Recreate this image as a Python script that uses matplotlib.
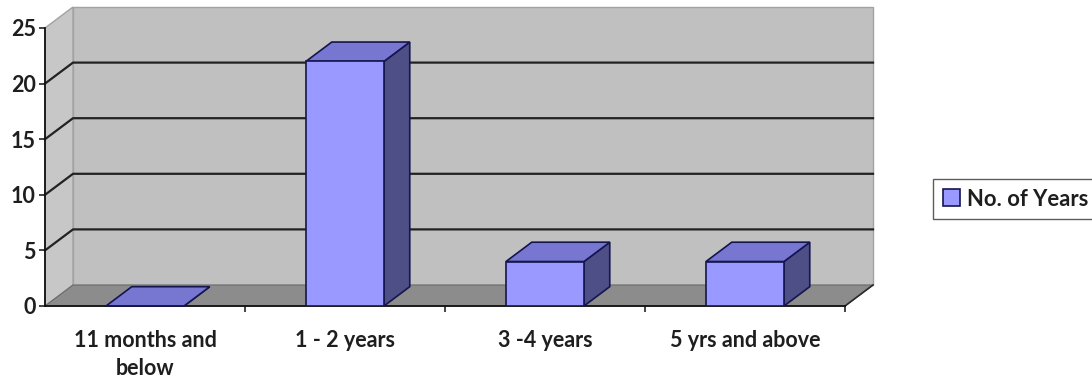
import matplotlib
matplotlib.use("Agg")
import matplotlib.pyplot as plt
from matplotlib.patches import Polygon, Patch
from matplotlib.lines import Line2D
from matplotlib.transforms import IdentityTransform

# ---- data -------------------------------------------------------------
categories = ["11 months and\nbelow", "1 - 2 years", "3 -4 years", "5 yrs and above"]
values = [0, 22, 4, 4]
series_name = "No. of Years"
y_ticks = [0, 5, 10, 15, 20, 25]

# ---- style ------------------------------------------------------------
FRONT = "#9999ff"
TOP = "#7777d2"
SIDE = "#4f4f88"
EDGE = "#15154f"
WALL = "#c0c0c0"
SIDE_WALL = "#c7c7c7"
FLOOR = "#8c8c8c"
GRID = "#222222"
TEXT = "#1e1e1e"
FONT = "Lato"

W, H, DPI = 1092, 379, 100
fig = plt.figure(figsize=(W / DPI, H / DPI), dpi=DPI)
fig.patch.set_facecolor("white")

# front plane of the box (pixels from the top-left corner)
left, right, bottom, top = 45, 845, 306, 28
ax = fig.add_axes([left / W, (H - bottom) / H, (right - left) / W, (bottom - top) / H])
n = len(values)
ax.set_xlim(-0.5, n - 0.5)
ax.set_ylim(y_ticks[0], y_ticks[-1])
ax.set_autoscale_on(False)
ax.patch.set_visible(False)

DEPTH = (28, 21)  # receding direction of the box, in pixels (right, up)


def P(x, y, t):
    """Data point (x, y) pushed back by depth fraction t, in display pixels."""
    px, py = ax.transData.transform((x, y))
    return (px + t * DEPTH[0], py + t * DEPTH[1])


def face(pts, fc, ec, lw=1.0, z=1.0):
    ax.add_patch(Polygon(pts, closed=True, facecolor=fc, edgecolor=ec, linewidth=lw,
                         transform=IdentityTransform(), clip_on=False, zorder=z))


def seg(pts, color, lw, z):
    xs, ys = zip(*pts)
    ax.add_line(Line2D(xs, ys, color=color, linewidth=lw, transform=IdentityTransform(),
                       clip_on=False, zorder=z))


xa, xb = -0.5, n - 0.5
ymin, ymax = y_ticks[0], y_ticks[-1]

# walls and floor
face([P(xa, ymin, 1), P(xb, ymin, 1), P(xb, ymax, 1), P(xa, ymax, 1)], WALL, "#a2a2a2", 1.0, 0.5)
face([P(xa, ymin, 0), P(xa, ymin, 1), P(xa, ymax, 1), P(xa, ymax, 0)], SIDE_WALL, "#a2a2a2", 1.0, 0.6)
face([P(xa, ymin, 0), P(xb, ymin, 0), P(xb, ymin, 1), P(xa, ymin, 1)], FLOOR, "#6a6a6a", 0.8, 0.7)
seg([P(xb, ymin, 0), P(xb, ymin, 1)], "#2a2a2a", 1.2, 0.8)

# gridlines along side wall and back wall
for v in y_ticks[1:-1]:
    seg([P(xa, v, 0), P(xa, v, 1), P(xb, v, 1)], GRID, 1.6, 0.9)

# 3-D columns
bw, bd = 0.39, 0.92
for i, v in enumerate(values):
    xl, xr = i - bw / 2, i + bw / 2
    face([P(xr, 0, 0), P(xr, 0, bd), P(xr, v, bd), P(xr, v, 0)], SIDE, EDGE, 1.2, 3.0)
    face([P(xl, v, 0), P(xr, v, 0), P(xr, v, bd), P(xl, v, bd)], TOP, EDGE, 1.2, 3.1)
ax.bar(range(n), values, width=bw, color=FRONT, edgecolor=EDGE, linewidth=1.2, zorder=3.2)

# axes
for s in ("top", "right"):
    ax.spines[s].set_visible(False)
for s in ("left", "bottom"):
    ax.spines[s].set_color("#111111")
    ax.spines[s].set_linewidth(1.3)
    ax.spines[s].set_zorder(2.5)

ax.set_yticks(y_ticks)
ax.set_yticklabels([str(t) for t in y_ticks], fontfamily=FONT, fontweight="bold",
                   fontsize=15.5, color=TEXT)
ax.tick_params(axis="y", direction="out", length=4.5, width=1.1, color="#111111", pad=2)

ax.set_xticks(range(n))
ax.set_xticklabels(categories, fontfamily=FONT, fontweight="bold", fontsize=15.5,
                   color=TEXT, linespacing=1.45, va="top")
ax.tick_params(axis="x", which="major", length=0, pad=17)
ax.set_xticks([i + 0.5 for i in range(n)], minor=True)
ax.tick_params(axis="x", which="minor", direction="out", length=4.5, width=1.1, color="#111111")

# legend
handle = Patch(facecolor=FRONT, edgecolor=EDGE, linewidth=1.2)
leg = fig.legend([handle], [series_name], loc="center left",
                 bbox_to_anchor=(933 / W, 1 - 199 / H), frameon=True, fancybox=False,
                 handlelength=0.8, handleheight=0.8, handletextpad=0.3,
                 borderpad=0.45, borderaxespad=0,
                 prop={"family": FONT, "weight": "bold", "size": 15.8})
leg.get_frame().set_edgecolor("#333333")
leg.get_frame().set_linewidth(1.0)
for t in leg.get_texts():
    t.set_color(TEXT)

fig.savefig("out.png", dpi=DPI, facecolor="white")
